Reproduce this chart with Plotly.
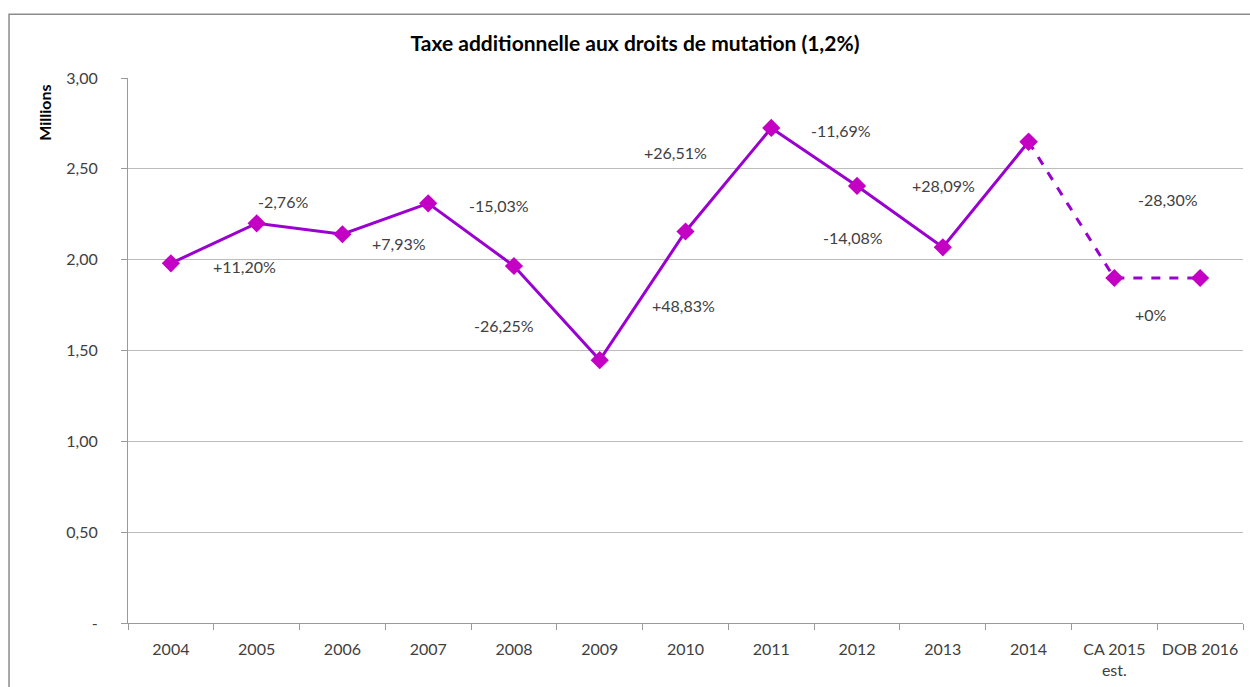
import plotly.graph_objects as go

# Catégories et montants (en millions d'euros)
categories = ["2004", "2005", "2006", "2007", "2008", "2009", "2010", "2011",
              "2012", "2013", "2014", "CA 2015<br>est.", "DOB 2016"]
montants = [1.98, 2.20, 2.14, 2.31, 1.965, 1.447, 2.155, 2.725, 2.406, 2.068,
            2.649, 1.899, 1.899]

# Variations annuelles affichées
variations = ["+11,20%", "-2,76%", "+7,93%", "-15,03%", "-26,25%", "+48,83%",
              "+26,51%", "-11,69%", "-14,08%", "+28,09%", "-28,30%", "+0%"]

y_ticks = [0, 0.5, 1.0, 1.5, 2.0, 2.5, 3.0]
y_tick_labels = ["-", "0,50", "1,00", "1,50", "2,00", "2,50", "3,00"]

# Emplacement des étiquettes (position de catégorie, hauteur en millions)
label_pos = [(0.86, 1.96), (1.31, 2.32), (2.66, 2.09), (3.83, 2.30),
             (3.88, 1.64), (5.98, 1.75), (5.88, 2.59), (7.81, 2.71),
             (7.95, 2.12), (9.01, 2.41), (11.62, 2.33), (11.43, 1.70)]

LINE = "#9A00CF"
MARK = "#C400C4"
FONT = "Lato"

n_real = 11  # réalisé : 2004 à 2014

fig = go.Figure()
fig.add_trace(go.Scatter(
    x=categories[:n_real], y=montants[:n_real], mode="lines+markers",
    line=dict(color=LINE, width=3),
    marker=dict(symbol="diamond", size=14, color=MARK),
    showlegend=False, hoverinfo="x+y"))
fig.add_trace(go.Scatter(
    x=categories[n_real - 1:], y=montants[n_real - 1:], mode="lines+markers",
    line=dict(color=LINE, width=3, dash="dash"),
    marker=dict(symbol="diamond", size=14, color=MARK),
    showlegend=False, hoverinfo="x+y"))

for txt, (px, py) in zip(variations, label_pos):
    fig.add_annotation(x=px, y=py, xref="x", yref="y", text=txt,
                       showarrow=False, font=dict(family=FONT, size=16, color="#404040"))

fig.add_annotation(x=-0.0745, y=0.936, xref="paper", yref="paper", text="<b>Millions</b>",
                   textangle=-90, showarrow=False, xanchor="center", yanchor="middle",
                   font=dict(family=FONT, size=16, color="#000000"))

# cadre du graphique (bords haut et gauche visibles)
fig.add_shape(type="path", xref="paper", yref="paper",
              path="M -0.1067 -0.3 L -0.1067 1.117 L 1.2 1.117",
              line=dict(color="#8c8c8c", width=1.5), layer="below")

fig.update_layout(
    width=1250, height=687,
    margin=dict(l=128, r=7, t=78, b=64),
    paper_bgcolor="white", plot_bgcolor="white",
    title=dict(text="<b>Taxe additionnelle aux droits de mutation (1,2%)</b>",
               x=0.508, xanchor="center", y=0.936, yanchor="middle",
               font=dict(family=FONT, size=21, color="#000000")),
    font=dict(family=FONT, size=16, color="#404040"),
    xaxis=dict(type="category", range=[-0.5, 12.5], showgrid=False,
               showline=True, linecolor="#9a9a9a", linewidth=1,
               ticks="outside", tickson="boundaries", ticklen=6, tickcolor="#9a9a9a",
               ticklabelstandoff=12,
               tickfont=dict(family=FONT, size=16, color="#404040")),
    yaxis=dict(range=[0, 3.0], tickvals=y_ticks, ticktext=y_tick_labels,
               showgrid=True, gridcolor="#bcbcbc", gridwidth=1,
               showline=True, linecolor="#9a9a9a", linewidth=1,
               ticks="outside", ticklen=6, tickcolor="#9a9a9a",
               zeroline=False, ticklabelstandoff=20,
               tickfont=dict(family=FONT, size=16, color="#404040")),
)

fig.write_html("out.html")
